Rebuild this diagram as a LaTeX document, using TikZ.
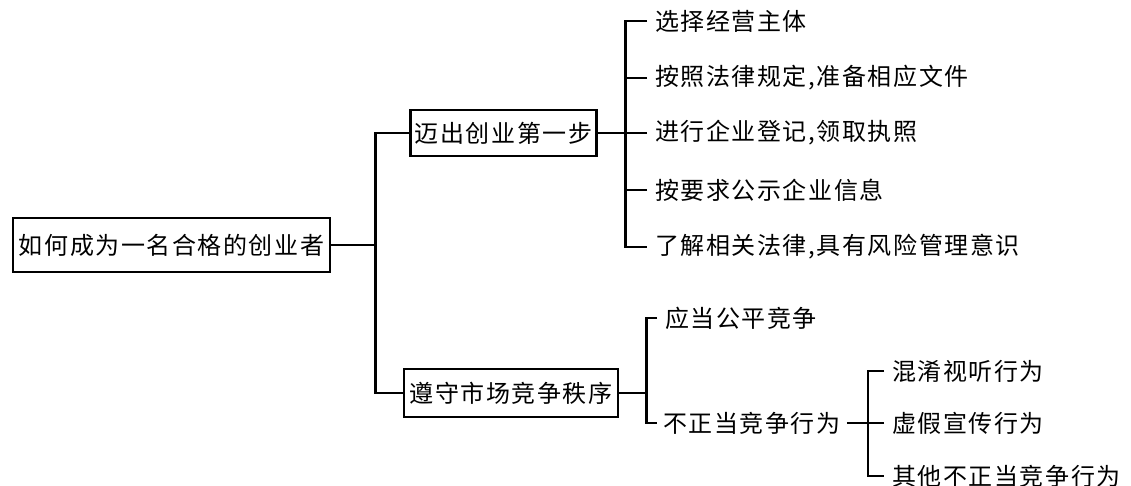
\documentclass[tikz,border=0pt]{standalone}
\usepackage{fontspec}
\newfontfamily\cjk[LetterSpace=6.5]{Noto Sans CJK SC}
\begin{document}
\begin{tikzpicture}[x=1pt,y=-1pt,
        topic/.style = {draw,line width=2.8pt,inner xsep=4pt,font=\cjk\fontsize{24}{27}\selectfont},
        leaf/.style = {anchor=west,inner xsep=8pt,inner ysep=2pt,font=\cjk\fontsize{24}{27}\selectfont},
        link/.style = {line width=2.6pt}]
                \useasboundingbox (0,0) rectangle (1131,486);

                \node[topic,minimum width=317pt,minimum height=54pt] 
                    (root) at (171.5,245) {如何成为一名合格的创业者};
                \node[topic,minimum width=183pt,minimum height=46pt] 
                    (first) at (503.5,133) {迈出创业第一步};
                \node[topic,minimum width=214pt,minimum height=48pt] 
                    (second) at (511,393) {遵守市场竞争秩序};

                \node[leaf] (a1) at (647,21)  {选择经营主体};
                \node[leaf] (a2) at (647,78)  {按照法律规定,准备相应文件};
                \node[leaf] (a3) at (647,133) {进行企业登记,领取执照};
                \node[leaf] (a4) at (647,190) {按要求公示企业信息};
                \node[leaf] (a5) at (647,247) {了解相关法律,具有风险管理意识};

                \node[leaf] (b1) at (657,318) {应当公平竞争};
                \node[leaf,inner xsep=6pt] (b2) at (657,423) {不正当竞争行为};

                \node[leaf] (c1) at (884,371) {混淆视听行为};
                \node[leaf] (c2) at (884,423) {虚假宣传行为};
                \node[leaf] (c3) at (884,476) {其他不正当竞争行为};

                \draw[link] (root.east) -- ++(44,0) coordinate (trunk);
                \draw[link] (first.west) -| (trunk) |- (second.west);

                \draw[link] (first.east) -- ++(28,0) coordinate (ja);
                \draw[link] (a1.west) -| (ja) |- (a5.west);
                \foreach \i in {2,3,4}
                    \draw[link] (a\i.west) -- (a\i.west -| ja);

                \draw[link] (second.east) -- ++(27,0) coordinate (jb);
                \draw[link] (b1.west) -| (jb) |- (b2.west);

                \coordinate (jc) at (868,423);
                \draw[link] (b2.east) -- (jc);
                \draw[link] (c1.west) -| (jc) |- (c3.west);
                \draw[link] (c2.west) -- (jc);
            \end{tikzpicture}
\end{document}
